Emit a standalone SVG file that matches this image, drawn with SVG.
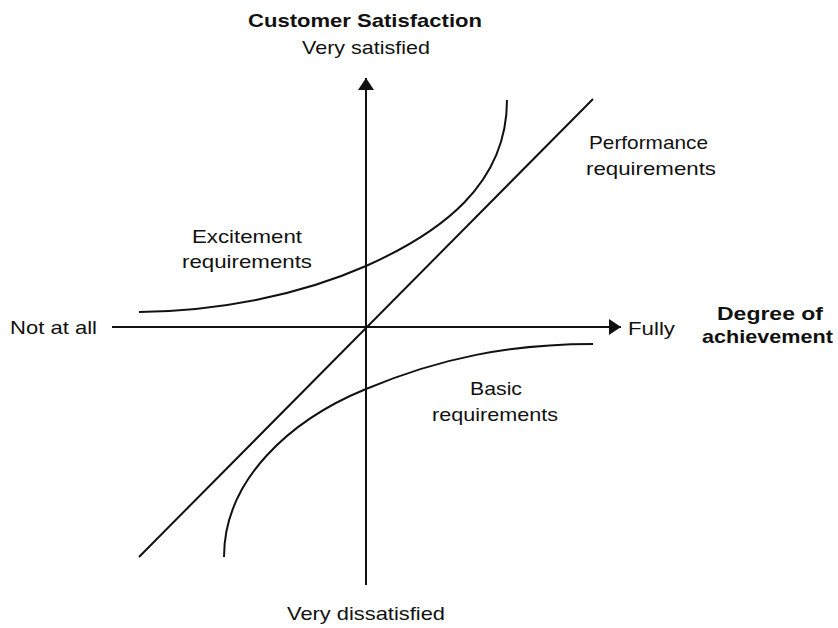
<svg xmlns="http://www.w3.org/2000/svg" width="838" height="628" viewBox="0 0 838 628">
<defs>
<style>
.t{font-family:"Liberation Sans",Arial,sans-serif;font-size:19px;fill:#111}
.b{font-weight:bold}
.ln{fill:none;stroke:#111;stroke-width:2}
</style>
<marker id="ah" viewBox="0 0 12 16" refX="12" refY="8" markerWidth="12" markerHeight="16" markerUnits="userSpaceOnUse" orient="auto">
<path d="M0,0 L12,8 L0,16 Z" fill="#111"/>
</marker>
</defs>
<rect width="838" height="628" fill="#fff"/>
<g id="connectors">
<line class="ln" x1="366" y1="585" x2="366" y2="78" marker-end="url(#ah)"/>
<line class="ln" x1="112" y1="327" x2="621" y2="327" marker-end="url(#ah)"/>
<line id="performance" class="ln" x1="139" y1="557" x2="593" y2="99"/>
<path id="excitement" class="ln" d="M139,312 C220,311 300,295 366,266 C440,233 507,185 507,100"/>
<path id="basic" class="ln" d="M224,557 C224,480 290,420 366,389 C440,358 510,344 593,344"/>
</g>
<g id="axis-y-label"><text class="t b" x="248" y="27" textLength="234" lengthAdjust="spacingAndGlyphs">Customer Satisfaction</text></g>
<g id="very-satisfied"><text class="t" x="302" y="54" textLength="128" lengthAdjust="spacingAndGlyphs">Very satisfied</text></g>
<g id="not-at-all"><text class="t" x="10" y="334" textLength="87" lengthAdjust="spacingAndGlyphs">Not at all</text></g>
<g id="fully"><text class="t" x="628" y="335" textLength="47" lengthAdjust="spacingAndGlyphs">Fully</text></g>
<g id="axis-x-label">
<text class="t b" x="717" y="320" textLength="106" lengthAdjust="spacingAndGlyphs">Degree of</text>
<text class="t b" x="702" y="343" textLength="131" lengthAdjust="spacingAndGlyphs">achievement</text>
</g>
<g id="excitement-label">
<text class="t" x="192" y="243" textLength="110" lengthAdjust="spacingAndGlyphs">Excitement</text>
<text class="t" x="182" y="268" textLength="130" lengthAdjust="spacingAndGlyphs">requirements</text>
</g>
<g id="performance-label">
<text class="t" x="589" y="149" textLength="119" lengthAdjust="spacingAndGlyphs">Performance</text>
<text class="t" x="586" y="175" textLength="130" lengthAdjust="spacingAndGlyphs">requirements</text>
</g>
<g id="basic-label">
<text class="t" x="470" y="395" textLength="52" lengthAdjust="spacingAndGlyphs">Basic</text>
<text class="t" x="432" y="421" textLength="126" lengthAdjust="spacingAndGlyphs">requirements</text>
</g>
<g id="very-dissatisfied"><text class="t" x="287" y="620" textLength="158" lengthAdjust="spacingAndGlyphs">Very dissatisfied</text></g>
</svg>
